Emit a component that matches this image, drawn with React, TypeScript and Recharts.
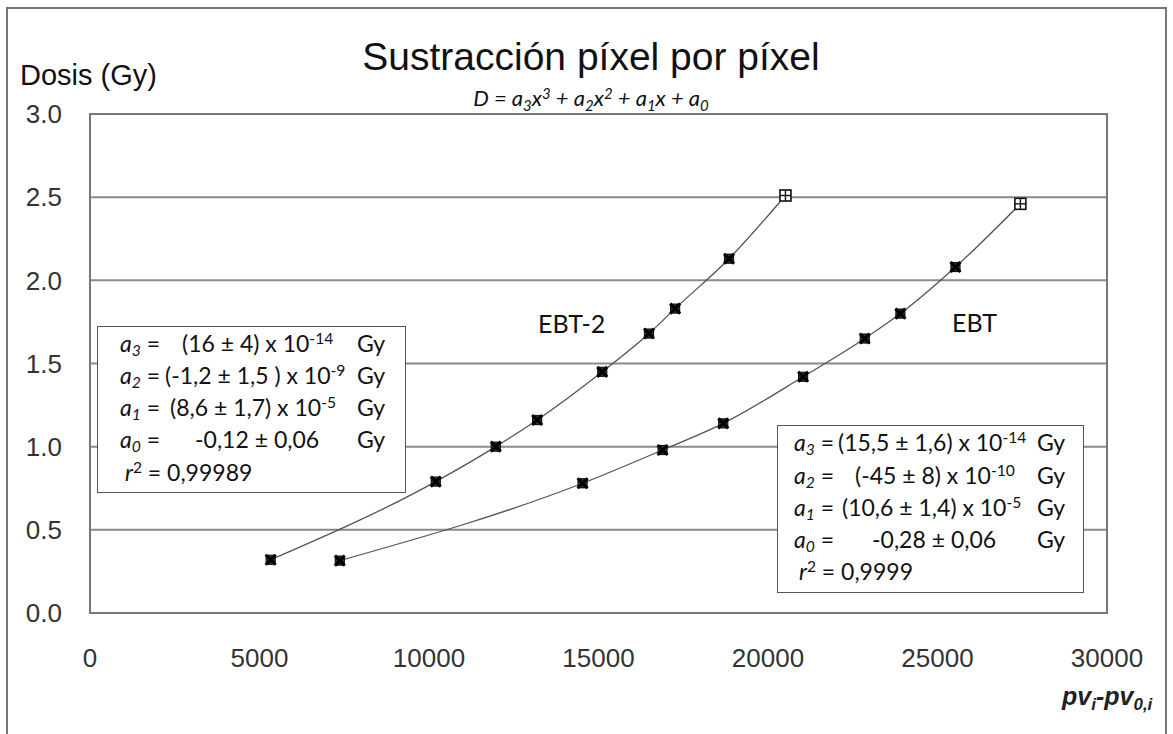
import React from "react";
import { LineChart, Line, XAxis, YAxis, CartesianGrid, ReferenceArea } from "recharts";

const X_TICKS = [0, 5000, 10000, 15000, 20000, 25000, 30000];
const Y_TICKS = [0, 0.5, 1, 1.5, 2, 2.5, 3];

// EBT-2 film
const ebt2Pv = [5330, 10200, 11970, 13190, 15110, 16490, 17260, 18850, 20515];
const ebt2Dose = [0.32, 0.79, 1.0, 1.16, 1.45, 1.68, 1.83, 2.13, 2.51];
// EBT film
const ebtPv = [7370, 14530, 16890, 18680, 21035, 22855, 23905, 25530, 27445];
const ebtDose = [0.315, 0.78, 0.98, 1.14, 1.42, 1.65, 1.8, 2.08, 2.46];

const ebt2 = ebt2Pv.map((x, i) => ({ x, y: ebt2Dose[i] }));
const ebt = ebtPv.map((x, i) => ({ x, y: ebtDose[i] }));

const ARIAL = "'Liberation Sans', Arial, sans-serif";
const CALIBRI = "Lato, 'Open Sans', sans-serif";

function Marker(props: any) {
  const { cx, cy, index, n } = props;
  if (cx == null || cy == null) return null;
  if (index === n - 1) {
    return (
      <g key={`m${index}`}>
        <rect x={cx - 5.5} y={cy - 5.5} width={11} height={11} fill="#fff" stroke="#111" strokeWidth={1.6} />
        <line x1={cx - 5.5} x2={cx + 5.5} y1={cy} y2={cy} stroke="#111" strokeWidth={1.4} />
        <line x1={cx} x2={cx} y1={cy - 5.5} y2={cy + 5.5} stroke="#111" strokeWidth={1.4} />
      </g>
    );
  }
  return (
    <g key={`m${index}`}>
      <rect x={cx - 4.5} y={cy - 4.5} width={9} height={9} fill="#333" stroke="#111" strokeWidth={1.2} />
      <path d={`M${cx - 5} ${cy - 5}L${cx + 5} ${cy + 5}M${cx - 5} ${cy + 5}L${cx + 5} ${cy - 5}`} stroke="#000" strokeWidth={3} />
    </g>
  );
}

// text placed by its baseline
function T({ x, b, size = 23, font = CALIBRI, asc = 0.887, style = {}, children }: any) {
  return (
    <div
      style={{
        position: "absolute",
        left: x,
        top: b - size * asc,
        fontSize: size,
        lineHeight: `${size}px`,
        fontFamily: font,
        whiteSpace: "nowrap",
        color: "#111",
        ...style,
      }}
    >
      {children}
    </div>
  );
}

const Sub = ({ children }: any) => (
  <span style={{ fontSize: "0.68em", position: "relative", top: "0.3em" }}>{children}</span>
);
const Sup = ({ children }: any) => (
  <span style={{ fontSize: "0.68em", position: "relative", top: "-0.5em" }}>{children}</span>
);
const A = ({ i }: any) => (
  <span style={{ fontStyle: "italic" }}>
    a<Sub>{i}</Sub>
  </span>
);

function FitBox({ left, top, width, height, lx, vx, gx, baselines, rows, r2, rx }: any) {
  return (
    <>
      <div
        style={{
          position: "absolute",
          left,
          top,
          width,
          height,
          background: "#fff",
          border: "1.5px solid #555",
          boxSizing: "border-box",
        }}
      />
      {rows.map((row: any, i: number) => (
        <React.Fragment key={i}>
          <T x={lx} b={baselines[i]}>
            <A i={row.i} /> =
          </T>
          <T x={vx[i]} b={baselines[i]}>
            {row.v}
            {row.e && (
              <>
                {" "}x 10<Sup>{row.e}</Sup>
              </>
            )}
          </T>
          <T x={gx} b={baselines[i]}>Gy</T>
        </React.Fragment>
      ))}
      <T x={rx} b={baselines[4]}>
        <span style={{ fontStyle: "italic" }}>r</span>
        <Sup>2</Sup> = {r2}
      </T>
    </>
  );
}

export default function App() {
  return (
    <div
      style={{
        position: "absolute",
        left: 0,
        top: 0,
        width: 1173,
        height: 734,
        overflow: "hidden",
        background: "#fff",
      }}
    >
      <div
        style={{
          position: "absolute",
          left: 6,
          top: 7,
          width: 1161,
          height: 760,
          border: "2px solid #777",
          boxSizing: "border-box",
        }}
      />
      <div style={{ position: "absolute", left: 0, top: 0 }}>
        <LineChart width={1173} height={734} margin={{ top: 114, right: 66, bottom: 71, left: 30 }}>
          <CartesianGrid vertical={false} stroke="#8a8a8a" strokeWidth={2} />
          <XAxis
            dataKey="x"
            type="number"
            domain={[0, 30000]}
            ticks={X_TICKS}
            axisLine={false}
            tickLine={false}
            tickSize={0}
            tickMargin={36}
            height={50}
            tick={{ fontSize: 26, fill: "#333", fontFamily: ARIAL }}
            allowDataOverflow
          />
          <YAxis
            type="number"
            domain={[0, 3]}
            ticks={Y_TICKS}
            tickFormatter={(v: number) => v.toFixed(1)}
            axisLine={false}
            tickLine={false}
            tickSize={0}
            tickMargin={28}
            width={60}
            tick={{ fontSize: 26, fill: "#333", fontFamily: ARIAL }}
            allowDataOverflow
          />
          <ReferenceArea x1={0} x2={30000} y1={0} y2={3} fill="none" stroke="#777" strokeWidth={2} ifOverflow="visible" />
          <Line
            data={ebt2}
            dataKey="y"
            type="monotone"
            stroke="#555"
            strokeWidth={1.3}
            dot={(p: any) => <Marker {...p} n={ebt2.length} />}
            isAnimationActive={false}
          />
          <Line
            data={ebt}
            dataKey="y"
            type="monotone"
            stroke="#555"
            strokeWidth={1.3}
            dot={(p: any) => <Marker {...p} n={ebt.length} />}
            isAnimationActive={false}
          />
        </LineChart>
      </div>

      <div
        style={{
          position: "absolute",
          left: 0,
          width: 1182,
          top: 70 - 39 * 0.8465,
          fontSize: 39,
          lineHeight: "39px",
          textAlign: "center",
          fontFamily: ARIAL,
          color: "#111",
        }}
      >
        Sustracción píxel por píxel
      </div>
      <div
        style={{
          position: "absolute",
          left: 0,
          width: 1182,
          top: 107 - 22 * 0.887,
          fontSize: 22,
          lineHeight: "22px",
          textAlign: "center",
          fontFamily: CALIBRI,
          fontStyle: "italic",
          color: "#111",
        }}
      >
        D = a<Sub>3</Sub>x<Sup>3</Sup> + a<Sub>2</Sub>x<Sup>2</Sup> + a<Sub>1</Sub>x + a<Sub>0</Sub>
      </div>
      <T x={20} b={86} size={29} font={ARIAL} asc={0.8465}>
        Dosis (Gy)
      </T>
      <T x={1062} b={705} size={25} font={ARIAL} asc={0.8465} style={{ fontWeight: "bold", fontStyle: "italic", color: "#222" }}>
        pv<Sub>i</Sub>-pv<Sub>0,i</Sub>
      </T>

      <T x={538} b={333} size={25} style={{ color: "#111" }}>
        EBT-2
      </T>
      <T x={952} b={332} size={25} style={{ color: "#111" }}>
        EBT
      </T>

      <FitBox
        left={97}
        top={326}
        width={309}
        height={167}
        lx={120}
        vx={[182, 165, 170, 195]}
        gx={357}
        baselines={[352, 384, 416, 448, 481]}
        rows={[
          { i: 3, v: "(16 ± 4)", e: "-14" },
          { i: 2, v: "(-1,2 ± 1,5 )", e: "-9" },
          { i: 1, v: "(8,6 ± 1,7)", e: "-5" },
          { i: 0, v: "-0,12 ± 0,06" },
        ]}
        r2="0,99989"
        rx={125}
      />
      <FitBox
        left={777}
        top={425}
        width={307}
        height={168}
        lx={794}
        vx={[838, 855, 842, 872]}
        gx={1037}
        baselines={[451, 484, 516, 548, 580]}
        rows={[
          { i: 3, v: "(15,5 ± 1,6)", e: "-14" },
          { i: 2, v: "(-45 ± 8)", e: "-10" },
          { i: 1, v: "(10,6 ± 1,4)", e: "-5" },
          { i: 0, v: "-0,28 ± 0,06" },
        ]}
        r2="0,9999"
        rx={799}
      />
    </div>
  );
}
